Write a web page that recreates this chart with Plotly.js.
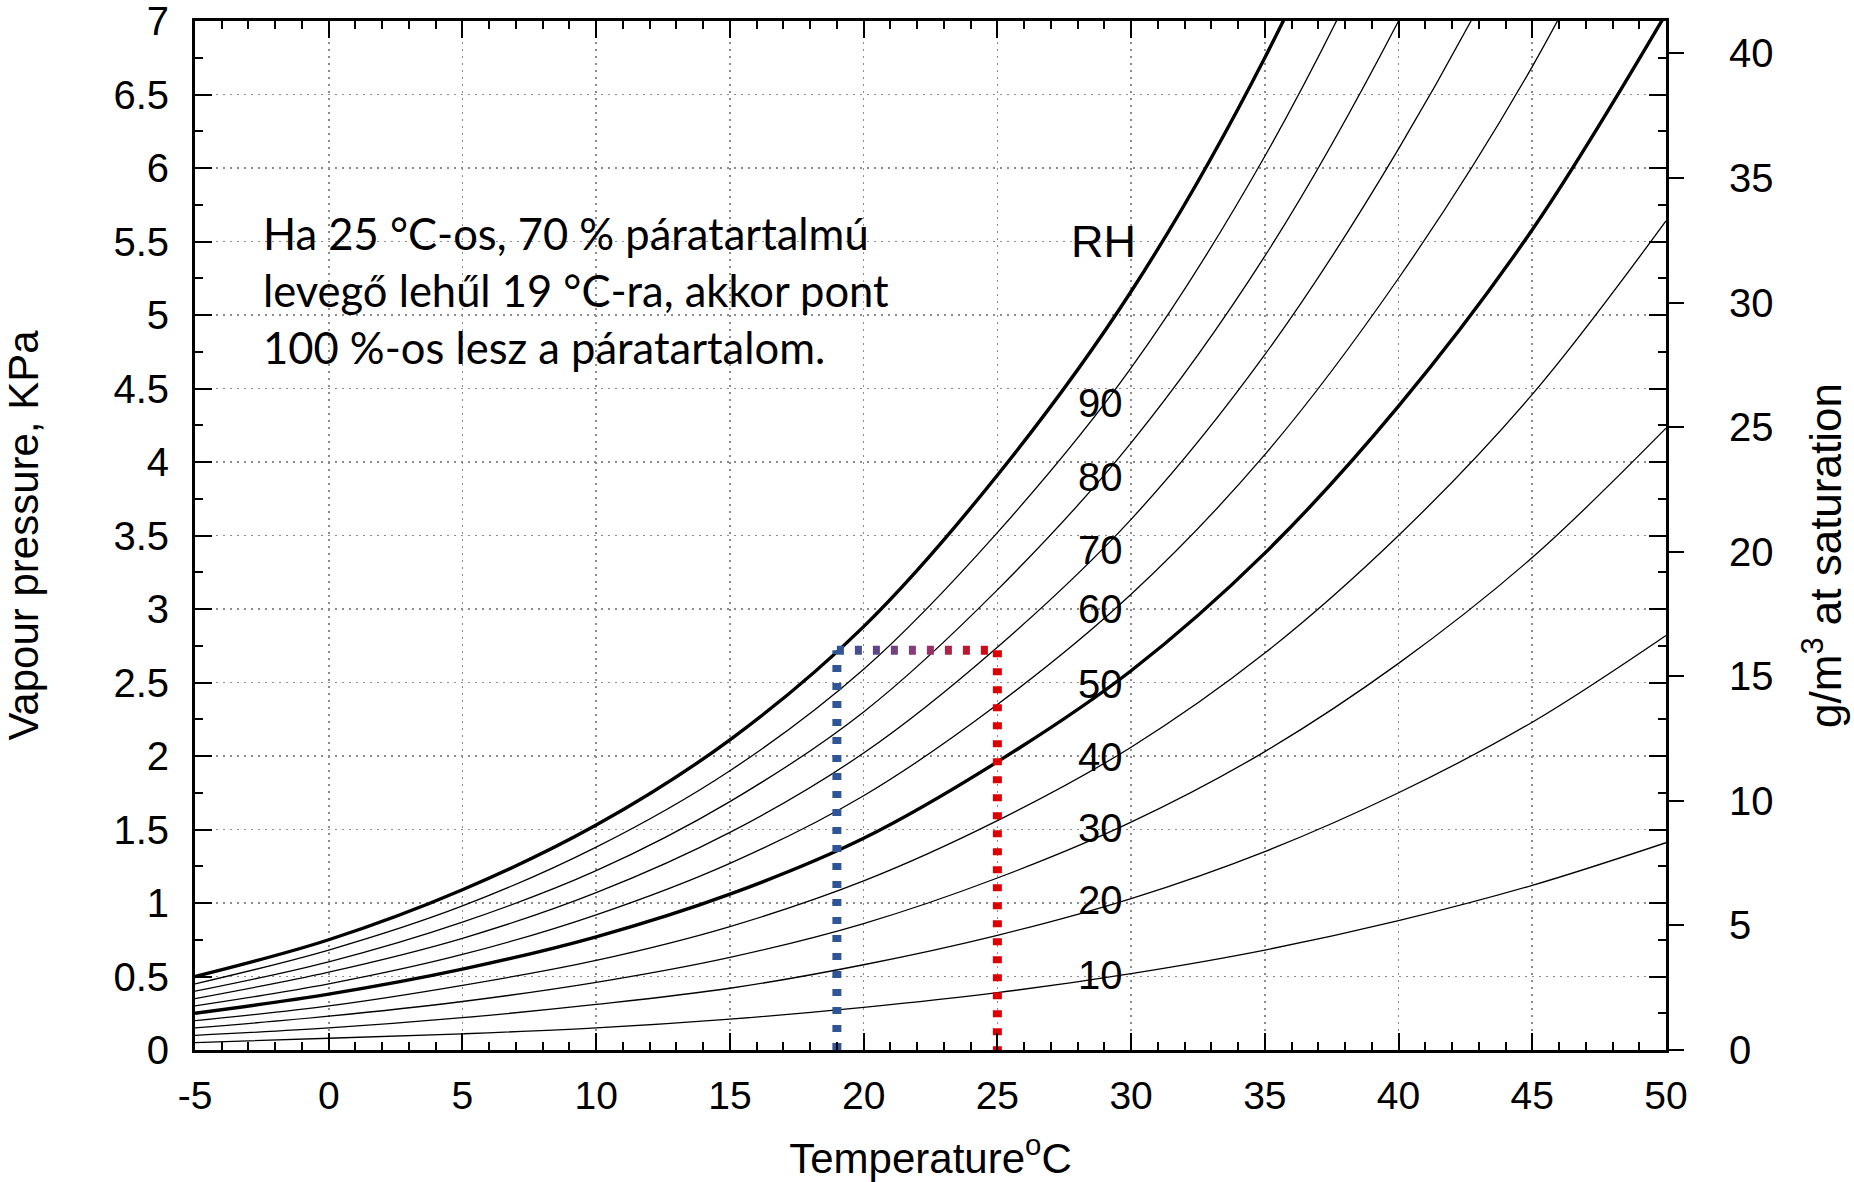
<!DOCTYPE html>
<html>
<head>
<meta charset="utf-8">
<script src="https://cdn.plot.ly/plotly-3.0.1.min.js"></script>
<style>
html, body { margin: 0; padding: 0; background: #ffffff; }
#chart { width: 1854px; height: 1182px; }
</style>
</head>
<body>
<div id="chart"></div>
<script>
// ---- data ----
const temperatureC = [-5, 0, 5, 10, 15, 20, 25, 30, 35, 40, 45, 50];

// vapour pressure (kPa) along each relative-humidity curve
const vpRH100 = [0.50, 0.75, 1.09, 1.53, 2.11, 2.88, 3.91, 5.16, 6.75, 8.75, 11.15, 14.10];
const vpRH90  = [0.45, 0.68, 0.98, 1.38, 1.90, 2.59, 3.52, 4.64, 6.08, 7.88, 10.04, 12.69];
const vpRH80  = [0.40, 0.60, 0.87, 1.22, 1.69, 2.30, 3.13, 4.13, 5.40, 7.00, 8.92, 11.28];
const vpRH70  = [0.35, 0.53, 0.76, 1.07, 1.48, 2.02, 2.74, 3.61, 4.73, 6.13, 7.81, 9.87];
const vpRH60  = [0.30, 0.45, 0.65, 0.92, 1.27, 1.73, 2.35, 3.10, 4.05, 5.25, 6.69, 8.46];
const vpRH50  = [0.25, 0.38, 0.55, 0.77, 1.06, 1.44, 1.96, 2.58, 3.38, 4.38, 5.58, 7.05];
const vpRH40  = [0.20, 0.30, 0.44, 0.61, 0.84, 1.15, 1.56, 2.06, 2.70, 3.50, 4.46, 5.64];
const vpRH30  = [0.15, 0.23, 0.33, 0.46, 0.63, 0.86, 1.17, 1.55, 2.03, 2.63, 3.35, 4.23];
const vpRH20  = [0.10, 0.15, 0.22, 0.31, 0.42, 0.58, 0.78, 1.03, 1.35, 1.75, 2.23, 2.82];
const vpRH10  = [0.05, 0.08, 0.11, 0.15, 0.21, 0.29, 0.39, 0.52, 0.68, 0.88, 1.12, 1.41];

const rhLevels = [100, 90, 80, 70, 60, 50, 40, 30, 20, 10];
const rhSeries = [vpRH100, vpRH90, vpRH80, vpRH70, vpRH60, vpRH50, vpRH40, vpRH30, vpRH20, vpRH10];

// curve labels written on the chart
const rhLabelTexts = ['90', '80', '70', '60', '50', '40', '30', '20', '10'];
const rhLabelKPa   = [4.40, 3.90, 3.40, 3.00, 2.49, 1.99, 1.51, 1.02, 0.51];
const rhHeaderText = 'RH';

// x tick labels (plain hyphen for the negative value, as in the original)
const xTickValues = [-5, 0, 5, 10, 15, 20, 25, 30, 35, 40, 45, 50];
const xTickLabels = ['-5', '0', '5', '10', '15', '20', '25', '30', '35', '40', '45', '50'];

// worked example: 25 °C air at 70 % cooled to its dew point of 19 °C
const airTempC = 25;
const dewPointC = 19;
const dewVapourKPa = 2.72;

const noteLines = [
  'Ha 25 °C-os, 70 % páratartalmú',
  'levegő lehűl 19 °C-ra, akkor pont',
  '100 %-os lesz a páratartalom.'
];

// axis titles
const xTitle = 'Temperature<sup>o</sup>C';
const yTitle = 'Vapour pressure, KPa';
const y2Title = 'g/m<sup>3</sup> at saturation';

// axis ranges
const tempRange = [-5, 50];
const kpaRange = [0, 7];
const densityRange = [0, 41.3];

// ---- styling ----
const AX_FONT = 'Liberation Sans, Arial, Helvetica, sans-serif';
const NOTE_FONT = 'Lato, Open Sans, sans-serif';
const BLUE = 'rgb(47,85,151)';
const RED = 'rgb(222,0,0)';
const DOTS = '7px,11px';

const traces = [];
rhLevels.forEach((rh, i) => {
  const thick = (rh === 100 || rh === 50);
  traces.push({
    type: 'scatter', mode: 'lines',
    x: temperatureC, y: rhSeries[i],
    name: 'RH ' + rh + '%',
    line: { color: '#000000', width: thick ? 3.4 : 1.3, shape: 'spline', smoothing: 1 },
    hoverinfo: 'skip', showlegend: false
  });
});

// blue vertical dotted line at the dew point
traces.push({
  type: 'scatter', mode: 'lines',
  x: [dewPointC, dewPointC], y: [kpaRange[0], dewVapourKPa],
  line: { color: BLUE, width: 9, dash: DOTS },
  hoverinfo: 'skip', showlegend: false
});
// red vertical dotted line at the air temperature
traces.push({
  type: 'scatter', mode: 'lines',
  x: [airTempC, airTempC], y: [dewVapourKPa, kpaRange[0]],
  line: { color: RED, width: 9, dash: DOTS },
  hoverinfo: 'skip', showlegend: false
});
// horizontal dotted connector (blue-to-red gradient applied after drawing)
const connectorIndex = traces.length;
traces.push({
  type: 'scatter', mode: 'lines',
  x: [dewPointC, airTempC], y: [dewVapourKPa, dewVapourKPa],
  line: { color: '#7a4080', width: 9, dash: DOTS },
  hoverinfo: 'skip', showlegend: false
});
// holder trace so the secondary (g/m3) axis is drawn
traces.push({
  type: 'scatter', mode: 'markers', x: [null], y: [null], yaxis: 'y2',
  marker: { opacity: 0 }, hoverinfo: 'skip', showlegend: false
});

const annotations = [];
rhLabelTexts.forEach((t, i) => {
  annotations.push({
    x: 28.85, y: rhLabelKPa[i], xref: 'x', yref: 'y', text: t, showarrow: false,
    xanchor: 'center', yanchor: 'middle',
    font: { family: AX_FONT, size: 40, color: '#000000' }
  });
});
annotations.push({
  x: 28.95, y: 5.5, xref: 'x', yref: 'y', text: rhHeaderText, showarrow: false,
  xanchor: 'center', yanchor: 'middle',
  font: { family: AX_FONT, size: 45, color: '#000000' }
});
const noteY = [5.56, 5.17, 4.78];
noteLines.forEach((t, i) => {
  annotations.push({
    x: -2.55, y: noteY[i], xref: 'x', yref: 'y', text: t, showarrow: false,
    xanchor: 'left', yanchor: 'middle', align: 'left',
    font: { family: NOTE_FONT, size: 43.5, color: '#000000' }
  });
});
// right-hand axis title
annotations.push({
  x: 1.106, y: 0.481, xref: 'paper', yref: 'paper', text: y2Title, showarrow: false,
  textangle: -90, xanchor: 'center', yanchor: 'middle',
  font: { family: AX_FONT, size: 44, color: '#000000' }
});

const gridStyle = { showgrid: true, gridcolor: '#8c8c8c', gridwidth: 1.6, griddash: '2px,5px' };

const layout = {
  width: 1854, height: 1182,
  margin: { l: 195, r: 188, t: 21, b: 132, pad: 0 },
  paper_bgcolor: '#ffffff', plot_bgcolor: '#ffffff',
  showlegend: false,
  xaxis: Object.assign({
    range: tempRange, tickmode: 'array', tickvals: xTickValues, ticktext: xTickLabels,
    ticks: 'inside', ticklen: 17, tickwidth: 2, tickcolor: '#000',
    minor: { dtick: 1, tick0: 0, ticks: 'inside', ticklen: 8, tickwidth: 2, tickcolor: '#000', showgrid: false },
    showline: true, linewidth: 3, linecolor: '#000', mirror: 'ticks',
    zeroline: false, ticklabeloverflow: 'allow',
    tickfont: { family: AX_FONT, size: 39, color: '#000' },
    ticklabelstandoff: 9,
    title: { text: xTitle, font: { family: AX_FONT, size: 42, color: '#000' }, standoff: 34 }
  }, gridStyle),
  yaxis: Object.assign({
    range: kpaRange, tick0: 0, dtick: 0.5,
    ticks: 'inside', ticklen: 17, tickwidth: 2, tickcolor: '#000',
    minor: { dtick: 0.25, ticks: 'inside', ticklen: 8, tickwidth: 2, tickcolor: '#000', showgrid: false },
    showline: true, linewidth: 3, linecolor: '#000', mirror: 'ticks',
    zeroline: false, ticklabeloverflow: 'allow',
    tickfont: { family: AX_FONT, size: 40, color: '#000' },
    ticklabelstandoff: 15,
    title: { text: yTitle, font: { family: AX_FONT, size: 42, color: '#000' }, standoff: 63 }
  }, gridStyle),
  yaxis2: {
    overlaying: 'y', side: 'right', anchor: 'x',
    range: densityRange, tick0: 0, dtick: 5,
    ticks: 'outside', ticklen: 17, tickwidth: 2, tickcolor: '#000',
    showline: false, showgrid: false, zeroline: false, ticklabeloverflow: 'allow',
    tickfont: { family: AX_FONT, size: 40, color: '#000' },
    ticklabelstandoff: 37
  },
  annotations: annotations
};

Plotly.newPlot('chart', traces, layout, { staticPlot: true, displayModeBar: false }).then(gd => {
  const ns = 'http://www.w3.org/2000/svg';
  const svg = gd.querySelector('.main-svg');
  let defs = svg.querySelector('defs');
  if (!defs) { defs = document.createElementNS(ns, 'defs'); svg.insertBefore(defs, svg.firstChild); }
  const traceGroups = gd.querySelectorAll('.subplot.xy .scatterlayer .trace');
  const grp = traceGroups[connectorIndex];
  if (!grp) return;
  const path = grp.querySelector('path.js-line');
  if (!path) return;
  const bb = path.getBBox();
  const grad = document.createElementNS(ns, 'linearGradient');
  grad.setAttribute('id', 'dewConnectorGradient');
  grad.setAttribute('gradientUnits', 'userSpaceOnUse');
  grad.setAttribute('x1', bb.x); grad.setAttribute('x2', bb.x + bb.width);
  grad.setAttribute('y1', bb.y); grad.setAttribute('y2', bb.y);
  [[0, BLUE], [0.5, 'rgb(140,58,120)'], [1, RED]].forEach(([o, c]) => {
    const s = document.createElementNS(ns, 'stop');
    s.setAttribute('offset', o); s.setAttribute('stop-color', c);
    grad.appendChild(s);
  });
  defs.appendChild(grad);
  path.style.stroke = 'url(#dewConnectorGradient)';
});
</script>
</body>
</html>
